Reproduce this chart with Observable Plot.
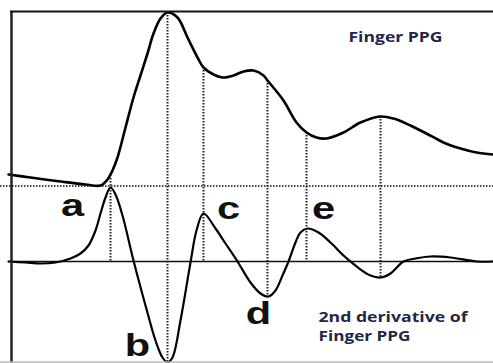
<!DOCTYPE html>
<html><head><meta charset="utf-8">
<script src="https://cdn.jsdelivr.net/npm/d3@7"></script>
<script src="https://cdn.jsdelivr.net/npm/@observablehq/plot@0.6"></script>
<style>body{margin:0;background:#fff}#chart svg{display:block}</style>
</head><body><div id="chart"></div>
<script>
// Finger PPG waveform (time units, amplitude units)
const ppgT = [8,30,60,85,100,107,112,117,125,133,140,147,153,160,167,177,187,197,203,213,222,233,243,253,263,267,283,296,306,316,326,343,360,380,393,410,426,443,460,476,493];
const ppgV = [87,84,80,77,76,82,91,104,134,164,186,208,228,243,249,244,224,204,194,187,184,186,190,191,186,181,161,139,129,124,123,129,139,145,143,136,128,119,113,109,107];
// 2nd derivative of Finger PPG
const d2T = [8,25,40,55,70,80,88,95,100,105,110,115,122,133,145,155,162,167,172,180,190,196,203,215,225,237,250,260,268,275,282,288,295,300,307,318,330,343,350,360,370,380,390,403,415,430,450,476,493];
const d2V = [0,-1,-2,-1,3,8,16,31,48,64,74,67,46,1,-44,-79,-96,-101,-96,-59,-1,31,48,33,18,0,-21,-32,-35,-29,-14,0,19,29,33,29,19,6,0,-8,-14,-16,-12,0,3,5,4,0,0];
// Marker lines (time, top on PPG, bottom on derivative)
const markT = [110,167,203,267,306,380];
const markTop = [83,249,194,181,129,145];
const markBottom = [0,-101,0,-35,0,-16];
// Wave labels
const labelText = ["a","b","c","d","e"];
const labelT = [72,137,228,258,323];
const labelV = [56,-84,53,-52,53];
// Titles
const titleText = ["Finger PPG","2nd derivative of","Finger PPG"];
const titleT = [348,318,318];
const titleV = [224.3,-55.7,-74.7];
const titleWidth = [94,149,92];
// Scale extents and reference levels
const xDomain = [0,493];
const yDomain = [-102,261];
const footLevel = 75.5;
const frameLeft = 11, frameTop = 250, frameBottom = -100.5;

const ppg = ppgT.map((t,i)=>({t, v: ppgV[i]}));
const d2 = d2T.map((t,i)=>({t, v: d2V[i]}));
const markers = markT.map((t,i)=>({t, top: markTop[i], bottom: markBottom[i]}));
const labels = labelText.map((s,i)=>({s, t: labelT[i], v: labelV[i]}));
const titles = titleText.map((s,i)=>({s, t: titleT[i], v: titleV[i]}));

const chart = Plot.plot({
  width: 493, height: 363, margin: 0,
  x: {domain: xDomain, axis: null},
  y: {domain: yDomain, axis: null},
  style: {background: "#fff"},
  marks: [
    Plot.ruleY([{y: footLevel, x1: xDomain[0], x2: xDomain[1]}], {y: "y", x1: "x1", x2: "x2", stroke: "#444", strokeWidth: 1.8, strokeDasharray: "1.5,1.5"}),
    Plot.ruleX(markers, {x: "t", y1: "top", y2: "bottom", stroke: "#222", strokeWidth: 2, strokeDasharray: "1.5,1.5"}),
    Plot.ruleY([{y: 0, x1: ppgT[0], x2: xDomain[1]}], {y: "y", x1: "x1", x2: "x2", stroke: "#111", strokeWidth: 1.6}),
    Plot.line(ppg, {x: "t", y: "v", curve: "catmull-rom", stroke: "#000", strokeWidth: 2.6}),
    Plot.line(d2, {x: "t", y: "v", curve: "catmull-rom", stroke: "#000", strokeWidth: 2.2}),
    Plot.ruleX([{x: frameLeft, y1: frameTop, y2: yDomain[0]}], {x: "x", y1: "y1", y2: "y2", stroke: "#222", strokeWidth: 2.5}),
    Plot.ruleY([{y: frameTop, x1: frameLeft - 1, x2: xDomain[1]}], {y: "y", x1: "x1", x2: "x2", stroke: "#111", strokeWidth: 1.8}),
    Plot.ruleY([{y: frameBottom, x1: xDomain[0], x2: xDomain[1]}], {y: "y", x1: "x1", x2: "x2", stroke: "#bbb", strokeWidth: 1.5}),
    Plot.text(labels, {x: "t", y: "v", text: "s", fontSize: 32, fontWeight: "bold", fontFamily: "Liberation Sans, Arial, sans-serif", fill: "#111"}),
    Plot.text(titles, {x: "t", y: "v", text: "s", textAnchor: "start", fontSize: 13.5, fontWeight: "bold", fontFamily: "Open Sans, sans-serif", fill: "#1f2747"})
  ]
});
document.getElementById("chart").append(chart);
const groups = chart.querySelectorAll('g[aria-label="text"]');
if (groups.length >= 2) {
  groups[0].querySelectorAll("text").forEach(el => {
    const len = el.getComputedTextLength();
    el.setAttribute("textLength", (len * 1.3).toFixed(2));
    el.setAttribute("lengthAdjust", "spacingAndGlyphs");
  });
  groups[1].querySelectorAll("text").forEach((el, i) => {
    el.setAttribute("textLength", titleWidth[i]);
    el.setAttribute("lengthAdjust", "spacingAndGlyphs");
  });
}
</script>
</body></html>
